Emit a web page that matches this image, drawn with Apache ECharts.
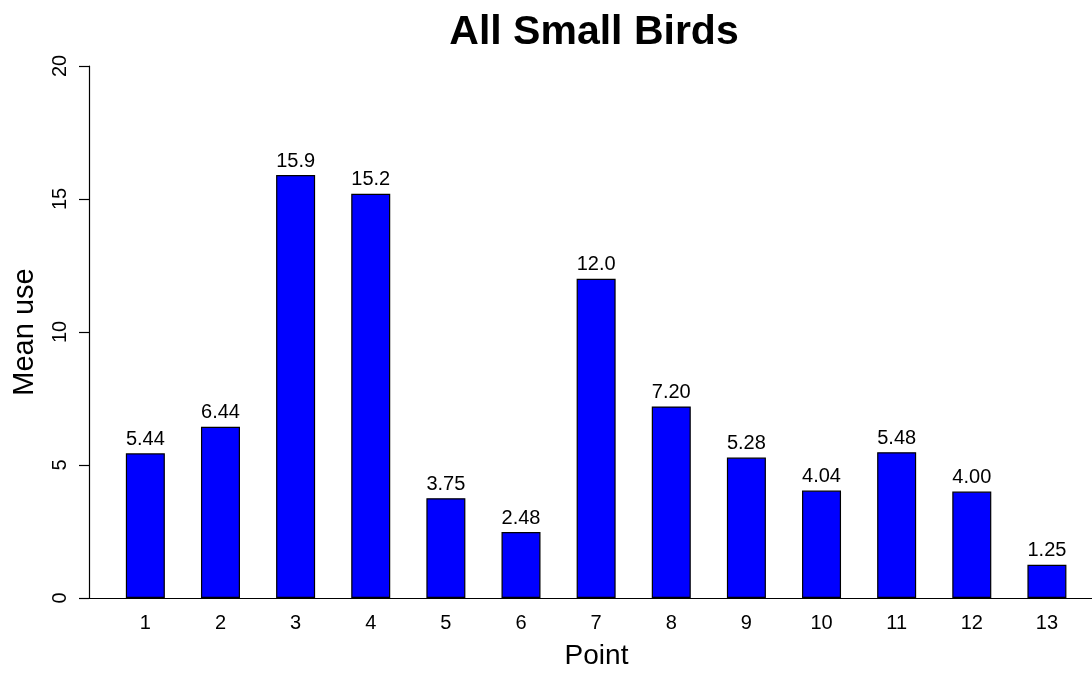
<!DOCTYPE html>
<html>
<head>
<meta charset="utf-8">
<script src="https://cdn.jsdelivr.net/npm/echarts@6/dist/echarts.min.js"></script>
<style>
html,body{margin:0;padding:0;background:#fff;overflow:hidden;}
#chart{width:1092px;height:675px;}
</style>
</head>
<body>
<div id="chart"></div>
<script>
const points = ['1','2','3','4','5','6','7','8','9','10','11','12','13'];
const meanUse = [5.44, 6.44, 15.9, 15.2, 3.75, 2.48, 12.0, 7.20, 5.28, 4.04, 5.48, 4.00, 1.25];
const yTicks = [0, 5, 10, 15, 20];

const FONT = 'Liberation Sans, Arial, Helvetica, sans-serif';
const chart = echarts.init(document.getElementById('chart'));
const pointPos = points.map((p, i) => i + 1);
const seriesData = pointPos.map((x, i) => [x, meanUse[i]]);

chart.setOption({
  backgroundColor: '#ffffff',
  animation: false,
  title: {
    text: 'All Small Birds',
    left: 589,
    textAlign: 'center',
    top: 7,
    textStyle: { fontFamily: FONT, fontWeight: 'bold', fontSize: 41, color: '#000' }
  },
  grid: { left: 89, right: 0, top: 66, height: 540, containLabel: false },
  xAxis: {
    type: 'value',
    min: 0.25,
    max: 13.6,
    name: 'Point',
    nameLocation: 'middle',
    nameGap: 44,
    nameTextStyle: { fontFamily: FONT, fontSize: 28, color: '#000', padding: [0, 0, 0, 12] },
    axisLine: { show: true, lineStyle: { color: '#000', width: 1.2 } },
    axisTick: { show: false },
    splitLine: { show: false },
    axisLabel: {
      customValues: pointPos,
      formatter: v => points[Math.round(v) - 1],
      fontFamily: FONT, fontSize: 20, color: '#000', margin: 15
    }
  },
  yAxis: {
    type: 'value',
    min: 0,
    max: 20,
    interval: 5,
    name: 'Mean use',
    nameLocation: 'middle',
    nameGap: 50,
    nameTextStyle: { fontFamily: FONT, fontSize: 29, color: '#000' },
    axisLine: { show: true, lineStyle: { color: '#000', width: 1.2 } },
    axisTick: { show: true, length: 10, inside: false, lineStyle: { color: '#000', width: 1.2 } },
    splitLine: { show: false },
    axisLabel: {
      customValues: yTicks,
      rotate: 90,
      fontFamily: FONT, fontSize: 20, color: '#000', margin: 19
    }
  },
  series: [{
    type: 'bar',
    data: seriesData,
    barWidth: 39,
    itemStyle: { color: '#0000ff', borderColor: '#000', borderWidth: 1.2 },
    label: {
      show: true,
      position: 'top',
      distance: 4,
      formatter: p => p.value[1].toPrecision(3),
      fontFamily: FONT, fontSize: 20, color: '#000'
    }
  }]
});
</script>
</body>
</html>
